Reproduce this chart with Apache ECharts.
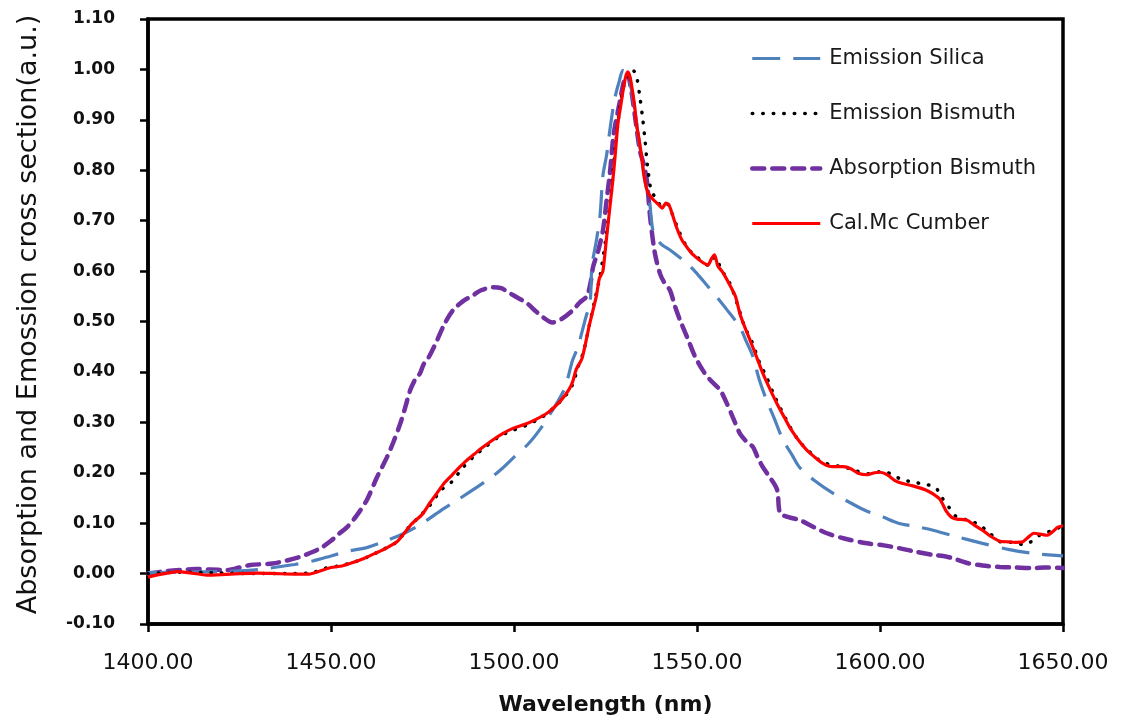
<!DOCTYPE html>
<html>
<head>
<meta charset="utf-8">
<script src="https://cdn.jsdelivr.net/npm/echarts@6/dist/echarts.min.js"></script>
<style>
html,body{margin:0;padding:0;background:#fff;}
#chart{width:1121px;height:727px;}
</style>
</head>
<body>
<div id="chart"></div>
<script>
// ---- Data ----
const seriesNames = ['Emission Silica', 'Emission Bismuth', 'Absorption Bismuth', 'Cal.Mc Cumber'];

const silicaX = [1400,1410,1420,1430,1440,1445,1450,1455,1460,1465,1470,1475,1480,1485,1490,1494,1497,1500,1504,1507,1510,1512,1514,1516,1517.5,1518.6,1519.5,1520.8,1521.3,1522.5,1523.5,1524.3,1525.3,1526.2,1527,1527.6,1528.7,1529.8,1530.8,1531.8,1533,1534,1535.2,1536,1537,1538,1540,1543,1547.3,1550,1552.7,1555.5,1558,1561.7,1563.5,1565.3,1567,1569,1571,1573.5,1576,1578,1582,1587,1592,1596,1600.8,1605,1610,1614.5,1620,1628,1635,1641.8,1650];
const silicaY = [0.002,0.003,0.004,0.008,0.018,0.025,0.035,0.045,0.052,0.065,0.080,0.100,0.125,0.148,0.172,0.192,0.210,0.231,0.258,0.285,0.318,0.342,0.370,0.423,0.450,0.480,0.505,0.540,0.610,0.660,0.710,0.790,0.830,0.880,0.920,0.945,0.975,0.998,0.995,0.970,0.920,0.865,0.806,0.770,0.740,0.680,0.655,0.640,0.615,0.595,0.572,0.548,0.525,0.489,0.460,0.430,0.385,0.344,0.310,0.265,0.235,0.211,0.185,0.160,0.140,0.125,0.112,0.100,0.093,0.086,0.075,0.060,0.048,0.040,0.035];

const bismuthX = [1400,1410,1420,1430,1440,1445,1448,1452,1456,1460,1464,1468,1471,1474,1477,1480,1483,1486,1489,1492,1496,1500,1504,1508,1511,1514,1516,1517.5,1519,1520.5,1522,1523.5,1525,1526.5,1527.5,1528.5,1529.5,1530.5,1531.5,1532.5,1533.5,1534.5,1535.2,1535.8,1536.3,1536.8,1537.5,1539,1540.5,1541.8,1543.2,1545,1547.5,1550,1553,1555,1556.5,1559,1561,1563,1565,1567,1569,1571,1573,1575.5,1578,1581,1584,1587,1590,1593,1597,1600,1603,1606,1609,1612,1615,1617,1619,1621,1624,1627,1630,1633,1636,1639,1641,1644,1647,1650];
const bismuthY = [0.000,0.003,0.001,0.000,0.000,0.002,0.010,0.015,0.022,0.033,0.047,0.063,0.090,0.112,0.135,0.165,0.182,0.210,0.232,0.250,0.272,0.285,0.296,0.312,0.330,0.352,0.375,0.410,0.440,0.490,0.540,0.590,0.660,0.750,0.830,0.900,0.950,0.980,0.995,0.998,0.985,0.940,0.900,0.860,0.820,0.790,0.760,0.742,0.728,0.733,0.714,0.680,0.645,0.628,0.612,0.628,0.605,0.575,0.535,0.490,0.460,0.420,0.390,0.355,0.325,0.290,0.262,0.240,0.222,0.215,0.212,0.205,0.198,0.202,0.198,0.186,0.182,0.177,0.172,0.150,0.130,0.112,0.106,0.097,0.080,0.063,0.062,0.058,0.062,0.078,0.085,0.095];

const absorptionX = [1400,1404,1408.7,1413,1417,1421.6,1425,1428,1434,1438,1441.5,1444,1447,1450,1452,1454.4,1457,1459.8,1462.5,1465.3,1467,1468.9,1470.3,1471.6,1473,1474.3,1475.3,1476.2,1477.5,1479,1481,1483.3,1486,1488.8,1491,1494.3,1496.5,1498.9,1501,1503.6,1506,1508,1510.5,1513,1516,1518,1519.9,1521,1521.6,1523,1524.3,1525.3,1526.2,1527.2,1528.2,1529,1530,1531,1532,1533,1534.4,1535.5,1536.3,1537.2,1538.5,1539.9,1541,1542.6,1544,1545.4,1547.3,1549.5,1551.6,1553.5,1556.3,1558,1559.8,1561.7,1563.5,1565.3,1566.5,1568,1570,1571.9,1572.7,1575,1578.1,1582,1585.5,1590,1596.4,1601,1605.5,1610,1614.5,1618,1620,1623.8,1628,1632.8,1637,1641.8,1645,1650];
const absorptionY = [0.000,0.004,0.007,0.009,0.008,0.007,0.012,0.017,0.020,0.026,0.033,0.040,0.050,0.065,0.078,0.092,0.115,0.146,0.190,0.231,0.260,0.297,0.330,0.363,0.385,0.397,0.415,0.423,0.440,0.463,0.495,0.522,0.540,0.552,0.562,0.568,0.566,0.556,0.547,0.536,0.520,0.508,0.498,0.505,0.522,0.538,0.550,0.580,0.608,0.640,0.681,0.740,0.794,0.870,0.910,0.939,0.975,0.990,0.960,0.910,0.839,0.810,0.780,0.707,0.635,0.595,0.578,0.562,0.530,0.502,0.469,0.430,0.403,0.385,0.364,0.340,0.310,0.278,0.262,0.251,0.232,0.211,0.190,0.166,0.120,0.112,0.106,0.092,0.080,0.070,0.060,0.056,0.050,0.043,0.037,0.034,0.030,0.021,0.016,0.013,0.012,0.011,0.012,0.011];

const mccumberX = [1400,1403,1408,1412,1416,1420,1425,1430,1435,1440,1444,1447,1450,1453,1456,1459,1462,1465,1468,1470,1472,1475,1477,1479,1481,1483,1485,1487,1489,1491,1494,1497,1500,1503,1506,1509,1511,1513,1515,1516,1517,1518.5,1519.5,1520.5,1521.5,1522.5,1523.3,1524.3,1525.2,1526.2,1527,1527.6,1528.4,1529.2,1529.8,1530.5,1531.1,1531.7,1532.2,1533,1533.5,1534.2,1535,1535.5,1536.5,1538,1539.5,1540.5,1541.5,1542.3,1543.2,1544.5,1546,1547.5,1549,1551,1553,1554,1554.8,1555.7,1557,1559,1560.5,1561.7,1563,1564.5,1566,1568,1570,1572,1574,1575.5,1578,1580,1582,1584.5,1587,1590,1592,1594,1596.5,1598.5,1600,1602,1604,1606,1609,1612.5,1614.5,1616.5,1618,1619.5,1621,1623.8,1626,1628,1630,1632.8,1635,1637,1639,1640.5,1642,1644,1645.6,1647,1648.6,1650];
const mccumberY = [-0.007,-0.002,0.004,0.001,-0.003,-0.002,0.000,0.001,0.000,-0.001,-0.001,0.005,0.012,0.015,0.022,0.030,0.040,0.050,0.063,0.080,0.098,0.118,0.140,0.160,0.180,0.195,0.210,0.224,0.236,0.248,0.264,0.278,0.289,0.296,0.306,0.318,0.330,0.345,0.365,0.380,0.405,0.425,0.455,0.490,0.520,0.550,0.585,0.600,0.660,0.727,0.780,0.826,0.893,0.930,0.958,0.985,0.995,0.985,0.965,0.925,0.890,0.860,0.820,0.790,0.757,0.742,0.732,0.725,0.735,0.732,0.714,0.685,0.660,0.645,0.632,0.620,0.612,0.625,0.632,0.610,0.598,0.572,0.550,0.516,0.490,0.463,0.435,0.397,0.365,0.335,0.308,0.288,0.262,0.245,0.232,0.218,0.212,0.212,0.208,0.199,0.196,0.200,0.201,0.196,0.185,0.179,0.174,0.166,0.158,0.146,0.125,0.112,0.108,0.106,0.095,0.086,0.075,0.064,0.063,0.062,0.063,0.072,0.080,0.078,0.076,0.082,0.092,0.095];

const xTicks = [1400,1450,1500,1550,1600,1650];
const yTicks = [-0.10,0.00,0.10,0.20,0.30,0.40,0.50,0.60,0.70,0.80,0.90,1.00,1.10];

function pairs(xs, ys){ return xs.map((x,i)=>[x, ys[i]]); }

const styles = {
  'Emission Silica':   {color:'#4F81BD', width:3.2, type:[28,13], cap:'butt'},
  'Emission Bismuth':  {color:'#000000', width:3.5, type:[0.5,10], cap:'round'},
  'Absorption Bismuth':{color:'#7030A0', width:4.5, type:[12,8], cap:'round'},
  'Cal.Mc Cumber':     {color:'#FF0000', width:3.2, type:'solid', cap:'butt'}
};

const chart = echarts.init(document.getElementById('chart'), null, {renderer:'canvas'});
const option = {
  animation: false,
  backgroundColor: '#ffffff',
  grid: {left:148, right:58, top:19, bottom:103, show:true, borderColor:'#000', borderWidth:3.5, backgroundColor:'transparent'},
  legend: {
    orient: 'vertical', left: 745, top: 43,
    data: seriesNames.map(n => ({name:n, itemStyle:{opacity:0, borderWidth:0}, lineStyle:Object.assign({}, styles[n])})),
    itemWidth: 68, itemHeight: 22, itemGap: 34,
    textStyle: {fontFamily:'DejaVu Sans', fontSize:21, color:'#1a1a1a', padding:[0,0,0,4]}
  },
  xAxis: {
    type:'value', min: xTicks[0], max: xTicks[xTicks.length-1], interval: 50,
    name: 'Wavelength (nm)', nameLocation:'middle', nameGap: 70,
    nameTextStyle: {fontFamily:'DejaVu Sans', fontSize:22, fontWeight:'bold', color:'#111'},
    axisLine: {show:true, onZero:false, lineStyle:{color:'#000', width:3.5}},
    axisTick: {show:true, inside:false, length:8, lineStyle:{color:'#000', width:2.5}},
    axisLabel: {margin: 28, fontFamily:'DejaVu Sans', fontSize:22, color:'#111', formatter: v => v.toFixed(2)},
    splitLine: {show:false}
  },
  yAxis: {
    type:'value', min: yTicks[0], max: yTicks[yTicks.length-1], interval: 0.1,
    name: 'Absorption and Emossion cross section(a.u.)', nameLocation:'middle', nameGap: 106, nameRotate: 90,
    nameTextStyle: {fontFamily:'DejaVu Sans', fontSize:27, color:'#111', padding:[0,0,0,14]},
    axisLine: {show:true, onZero:false, lineStyle:{color:'#000', width:3.5}},
    axisTick: {show:true, inside:false, length:8, lineStyle:{color:'#000', width:2.5}},
    axisLabel: {margin: 33, fontFamily:'DejaVu Sans', fontSize:17, fontWeight:'bold', color:'#111', formatter: v => v.toFixed(2)},
    splitLine: {show:false}
  },
  series: [
    {name: seriesNames[2], type:'line', data: pairs(absorptionX, absorptionY), showSymbol:false, symbol:'none', smooth:0.3, z:2,
      lineStyle: styles[seriesNames[2]], itemStyle:{color:'#7030A0'}},
    {name: seriesNames[0], type:'line', data: pairs(silicaX, silicaY), showSymbol:false, symbol:'none', smooth:0.3, z:3,
      lineStyle: styles[seriesNames[0]], itemStyle:{color:'#4F81BD'}},
    {name: seriesNames[1], type:'line', data: pairs(bismuthX, bismuthY), showSymbol:false, symbol:'none', smooth:0.3, z:4,
      lineStyle: styles[seriesNames[1]], itemStyle:{color:'#000000'}},
    {name: seriesNames[3], type:'line', data: pairs(mccumberX, mccumberY), showSymbol:false, symbol:'none', smooth:0.2, z:5,
      lineStyle: styles[seriesNames[3]], itemStyle:{color:'#FF0000'}}
  ]
};
chart.setOption(option);
</script>
</body>
</html>
